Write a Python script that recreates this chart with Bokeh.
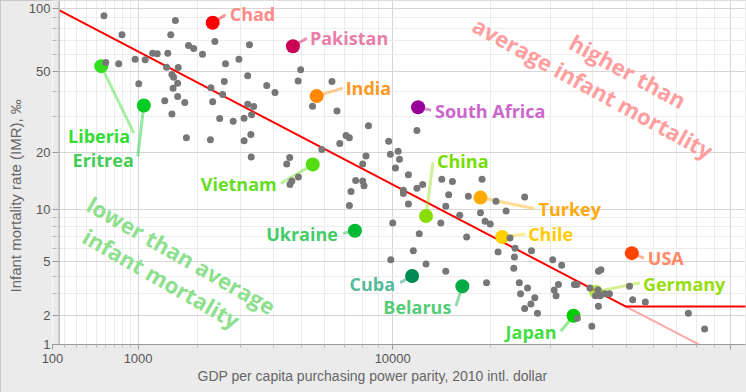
import math
from bokeh.plotting import figure
from bokeh.models import (ColumnDataSource, Range1d, FixedTicker, CustomJSTickFormatter,
                          CustomJSTransform, Label, LabelSet, Title, BoxAnnotation, Span)
from bokeh.transform import transform
from bokeh.core.properties import value
from bokeh.embed import file_html
from bokeh.resources import INLINE

# ---------------- data ----------------
gdp = [580, 790, 600, 750, 960, 1100, 1210, 1280, 1450, 1500,
       1580, 1430, 1630, 1010, 1520, 1550, 1620, 1540, 1620, 1400,
       1750, 1520, 1780, 2270, 1820, 1920, 2100, 2370, 2620, 2590,
       2280, 2550, 2320, 2480, 2810, 3100, 2960, 3200, 3250, 3200,
       3100, 3770, 4040, 4980, 4880, 6360, 5470, 6610, 8370, 3370,
       3310, 3290, 3300, 4560, 4450, 4890, 4640, 4570, 5880, 6750,
       7080, 7260, 8220, 8020, 7610, 8020, 8100, 7350, 9710, 9830,
       10400, 10500, 10200, 11200, 11900, 10800, 10800, 12400, 11900, 14200,
       15300, 18800, 14900, 17100, 7260, 11200, 14600, 16100, 18600, 19200,
       19900, 10000, 14100, 12100, 16900, 11600, 9860, 12700, 14600, 19400,
       21000, 25200, 20700, 22200, 22800, 23600, 23500, 26400, 23400, 30500,
       32400, 24300, 25700, 24500, 27000, 26300, 25200, 27500, 30800, 31700,
       31200, 35300, 35900, 41500, 42200, 39200, 41400, 40700, 42000, 43300,
       44700, 41500, 36000, 39700, 51100, 52200, 56800, 75600, 84200]
imr = [92.0, 74.8, 55.1, 54.3, 57.1, 56.8, 61.0, 60.7, 61.0, 74.8,
       87.4, 52.3, 52.1, 43.5, 48.2, 46.8, 43.8, 41.4, 37.7, 36.0,
       35.3, 31.0, 23.6, 23.1, 66.5, 64.3, 60.4, 69.5, 54.3, 44.6,
       41.6, 38.6, 35.6, 29.4, 28.5, 29.5, 57.1, 47.5, 67.0, 34.6,
       22.8, 42.7, 39.4, 50.8, 44.8, 44.6, 33.8, 32.0, 27.1, 33.7,
       30.7, 24.5, 18.9, 18.8, 17.4, 14.9, 14.2, 13.6, 20.6, 22.1,
       24.2, 23.6, 19.1, 17.4, 14.3, 14.2, 13.4, 12.5, 22.7, 19.5,
       20.2, 18.4, 16.6, 15.3, 25.7, 12.7, 12.2, 13.6, 13.0, 14.5,
       14.1, 14.5, 12.0, 11.8, 10.5, 10.7, 10.4, 9.3, 9.6, 8.6,
       8.3, 8.4, 8.4, 7.3, 7.0, 5.8, 5.1, 4.8, 4.3, 3.6,
       5.7, 11.7, 11.1, 9.8, 6.9, 6.0, 5.3, 5.8, 4.5, 5.1,
       4.7, 3.6, 3.3, 3.0, 2.8, 2.5, 2.3, 2.1, 3.2, 3.5,
       2.9, 3.5, 3.5, 4.3, 4.4, 3.3, 3.2, 2.9, 2.9, 3.0,
       3.0, 2.4, 1.9, 1.6, 3.4, 2.7, 2.6, 2.1, 1.5]

countries = ["Chad", "Pakistan", "India", "South Africa", "Vietnam", "China", "Turkey",
             "Chile", "Ukraine", "Cuba", "Belarus", "USA", "Germany", "Japan",
             "Liberia", "Eritrea"]
hl_gdp = [2320, 4680, 5650, 12000, 5480, 12700, 18600, 21600, 7570, 11500, 16400,
          51900, 40800, 35100, 550, 1080]
hl_imr = [85.2, 65.9, 37.9, 33.4, 17.3, 9.2, 11.6, 7.0, 7.6, 4.0, 3.4,
          5.6, 3.1, 2.0, 52.9, 34.1]

trend_gdp = [156, 49900, 300000]
trend_imr = [97.5, 2.39, 2.39]
trend_ext_gdp = [49900, 81100]
trend_ext_imr = [2.39, 1.0]

x_major = [100, 1000, 10000, 100000]
x_minor = [200, 300, 400, 500, 600, 700, 800, 900,
           2000, 3000, 4000, 5000, 6000, 7000, 8000, 9000,
           20000, 30000, 40000, 50000, 60000, 70000, 80000, 90000]
y_major = [1, 2, 5, 10, 20, 50, 100]
y_minor = [3, 4, 6, 7, 8, 9, 30, 40, 60, 70, 80, 90]

x_title = "GDP per capita purchasing power parity, 2010 intl. dollar"
y_title = "Infant mortality rate (IMR), \u2030"

# ---------------- styles ----------------
pt_colors = ["#ff0000", "#cc0055", "#ff8800", "#990099", "#55dd11", "#88dd00", "#ffaa00",
             "#ffd000", "#00bb33", "#008855", "#00aa44", "#ff4400", "#99dd00", "#00cc00",
             "#33dd22", "#00cc22"]
pt_alpha = [1, 1, 1, 1, 1, 1, 1, 1, 1, 1, 1, 1, 0.7, 1, 1, 1]
lbl_colors = ["#ff8a8a", "#e87fa8", "#ff9922", "#cc66cc", "#66dd22", "#77dd00", "#ffaa11",
              "#ffcc00", "#44cc66", "#55bb99", "#55cc77", "#ff8866", "#99dd11", "#44dd44",
              "#33dd33", "#44cc55"]
# label offsets in pixels (dy positive = downwards), and alignment
lbl_dx = [17, 17, 29, 17, -36, 11, 58, 26, -17, -17, -11, 16, 47, -17, 29, -10]
lbl_dy = [-9, -8.5, -8.5, 3.3, 20, -55, 11.7, -2.7, 3.3, 7.6, 21, 5.3, -7.7, 16.4, 70.3, 54.3]
lbl_align = ["left", "left", "left", "left", "right", "left", "left", "left", "right",
             "right", "right", "left", "left", "right", "right", "right"]
lead_dx = [13, 14, 26, 13, -32, 7, 54, 23, -12, -12, -6.5, 12, 44, -12.7, 32.7, -6]
lead_dy = [-8, -8, -8, 3, 19, -54, 11, -3, 2.6, 6.6, 20, 5, -9, 15.5, 67, 51]

C_X = 1100.0
C_Y = 1.77
X_MIN, X_MAX = 100.0, 110350.0
Y_MIN, Y_MAX = 1.0, 108.7
AXIS_AT_GDP = 153.0          # where the visible y-axis line sits
FW, FH = 693, 344
ML, MB, MR = 52, 48, 1


def fx(v):
    return math.log10(v + C_X)


def fy(v):
    return math.log10(v + C_Y)


kx = FW / (fx(X_MAX) - fx(X_MIN))
ky = FH / (fy(Y_MAX) - fy(Y_MIN))

JS = """
const out = new Array(xs.length);
for (let i = 0; i < xs.length; i++) {
  const o = off.length > i ? off[i] : 0;
  out[i] = Math.log10(xs[i] + c) + o / k;
}
return out;
"""


def tr(c, off=None, k=1.0):
    return CustomJSTransform(args=dict(c=c, off=list(off) if off else [], k=k), v_func=JS)


TX = tr(C_X)
TY = tr(C_Y)

p = figure(frame_width=FW, frame_height=FH,
           x_range=Range1d(fx(X_MIN), fx(X_MAX)), y_range=Range1d(fy(Y_MIN), fy(Y_MAX)),
           output_backend="svg", toolbar_location=None,
           min_border_left=ML, min_border_right=MR, min_border_top=0, min_border_bottom=MB,
           background_fill_color="white", border_fill_color="#ebebeb")
p.outline_line_color = None
p.styles = {"outline": "1px solid #bdbdbd", "outline-offset": "-1px"}

xt = FixedTicker(ticks=[fx(v) for v in x_major], minor_ticks=[fx(v) for v in x_minor])
yt = FixedTicker(ticks=[fy(v) for v in y_major], minor_ticks=[fy(v) for v in y_minor])
p.xaxis.ticker = xt
p.yaxis.ticker = yt
p.xgrid.ticker = xt
p.ygrid.ticker = yt
p.xaxis.formatter = CustomJSTickFormatter(args=dict(c=C_X), code="""
const v = Math.round(Math.pow(10, tick) - c);
return v >= 100000 ? '' : String(v);""")
p.yaxis.formatter = CustomJSTickFormatter(args=dict(c=C_Y), code="""
return String(Math.round(Math.pow(10, tick) - c));""")

for g in (p.xgrid, p.ygrid):
    g.grid_line_color = "#d6d6d6"
    g.minor_grid_line_color = "#ececec"

p.axis.major_tick_line_color = "#9a9a9a"
p.axis.minor_tick_line_color = "#b4b4b4"
p.axis.major_label_text_font = "Liberation Sans"
p.axis.major_label_text_font_size = "13px"
p.axis.major_label_text_color = "#555555"
p.xaxis.axis_line_color = "#9a9a9a"
p.xaxis.major_tick_in = 0
p.xaxis.major_tick_out = 5
p.xaxis.minor_tick_in = 0
p.xaxis.minor_tick_out = 3
p.xaxis.major_label_standoff = 4
p.yaxis.axis_line_color = None
p.yaxis.major_tick_in = 6
p.yaxis.major_tick_out = 0
p.yaxis.minor_tick_in = 4
p.yaxis.minor_tick_out = 0
p.yaxis.major_label_standoff = 2

# grey band left of the visible y-axis line, and the axis line itself
p.add_layout(BoxAnnotation(right=fx(AXIS_AT_GDP), fill_color="#ebebeb", fill_alpha=1,
                           line_color=None, level="underlay"))
p.add_layout(Span(location=fx(AXIS_AT_GDP), dimension="height", line_color="#9a9a9a",
                  line_width=1))

# axis titles
p.add_layout(Title(text=x_title, align="left", offset=145, standoff=0,
                   text_font="Liberation Sans", text_font_size="14px",
                   text_font_style="normal", text_color="#666666"), "below")
p.add_layout(Title(text=y_title, align="left", offset=52, standoff=3,
                   text_font="Liberation Sans", text_font_size="15px",
                   text_font_style="normal", text_color="#666666"), "left")

# trend lines
p.line(x=transform("x", TX), y=transform("y", TY),
       source=ColumnDataSource(dict(x=trend_ext_gdp, y=trend_ext_imr)),
       line_color="#ffaaaa", line_width=2)
p.line(x=transform("x", TX), y=transform("y", TY),
       source=ColumnDataSource(dict(x=trend_gdp, y=trend_imr)),
       line_color="#ff0000", line_width=2)

hl_src = ColumnDataSource(dict(gdp=hl_gdp, imr=hl_imr, name=countries, pc=pt_colors,
                               pa=pt_alpha, lc=lbl_colors))
p.segment(x0=transform("gdp", TX), y0=transform("imr", TY),
          x1=transform("gdp", tr(C_X, lead_dx, kx)),
          y1=transform("imr", tr(C_Y, [-d for d in lead_dy], ky)),
          source=hl_src, line_color="pc", line_alpha=0.42, line_width=3)
p.scatter(x=transform("gdp", TX), y=transform("imr", TY), size=14, fill_color="pc",
          fill_alpha="pa", line_color=None, source=hl_src)

p.scatter(x=transform("gdp", TX), y=transform("imr", TY), size=7, fill_color="#777777",
          line_color=None, source=ColumnDataSource(dict(gdp=gdp, imr=imr)))

for al in ("left", "right"):
    idx = [i for i, a in enumerate(lbl_align) if a == al]
    src = ColumnDataSource(dict(gdp=[hl_gdp[i] for i in idx], imr=[hl_imr[i] for i in idx],
                                name=[countries[i] for i in idx],
                                lc=[lbl_colors[i] for i in idx],
                                dx=[lbl_dx[i] for i in idx],
                                dy=[-lbl_dy[i] for i in idx]))
    p.add_layout(LabelSet(x=transform("gdp", TX), y=transform("imr", TY), text="name",
                          x_offset="dx", y_offset="dy", source=src,
                          text_color="lc", text_font=value("Open Sans"),
                          text_font_style="bold", text_font_size="18px",
                          text_align=al, text_baseline="middle"))

# big rotated annotations (positions relative to the frame's top-left corner)
big = [("higher than", 575.5, 70.5, "#ff9e9e", -0.50),
       ("average infant mortality", 540.5, 87, "#ff9e9e", -0.50),
       ("lower than average", 129, 254.5, "#8ee08e", -0.52),
       ("infant mortality", 109, 277.5, "#8ee08e", -0.52)]
for txt, ox, oy, col, ang in big:
    p.add_layout(Label(x=fx(X_MIN), y=fy(Y_MAX), x_offset=ox, y_offset=-oy, text=txt,
                       angle=ang, text_align="center", text_baseline="middle",
                       text_font="Open Sans", text_font_style="bold",
                       text_font_size="22px", text_color=col))

open("out.html", "w").write(file_html(p, INLINE))
